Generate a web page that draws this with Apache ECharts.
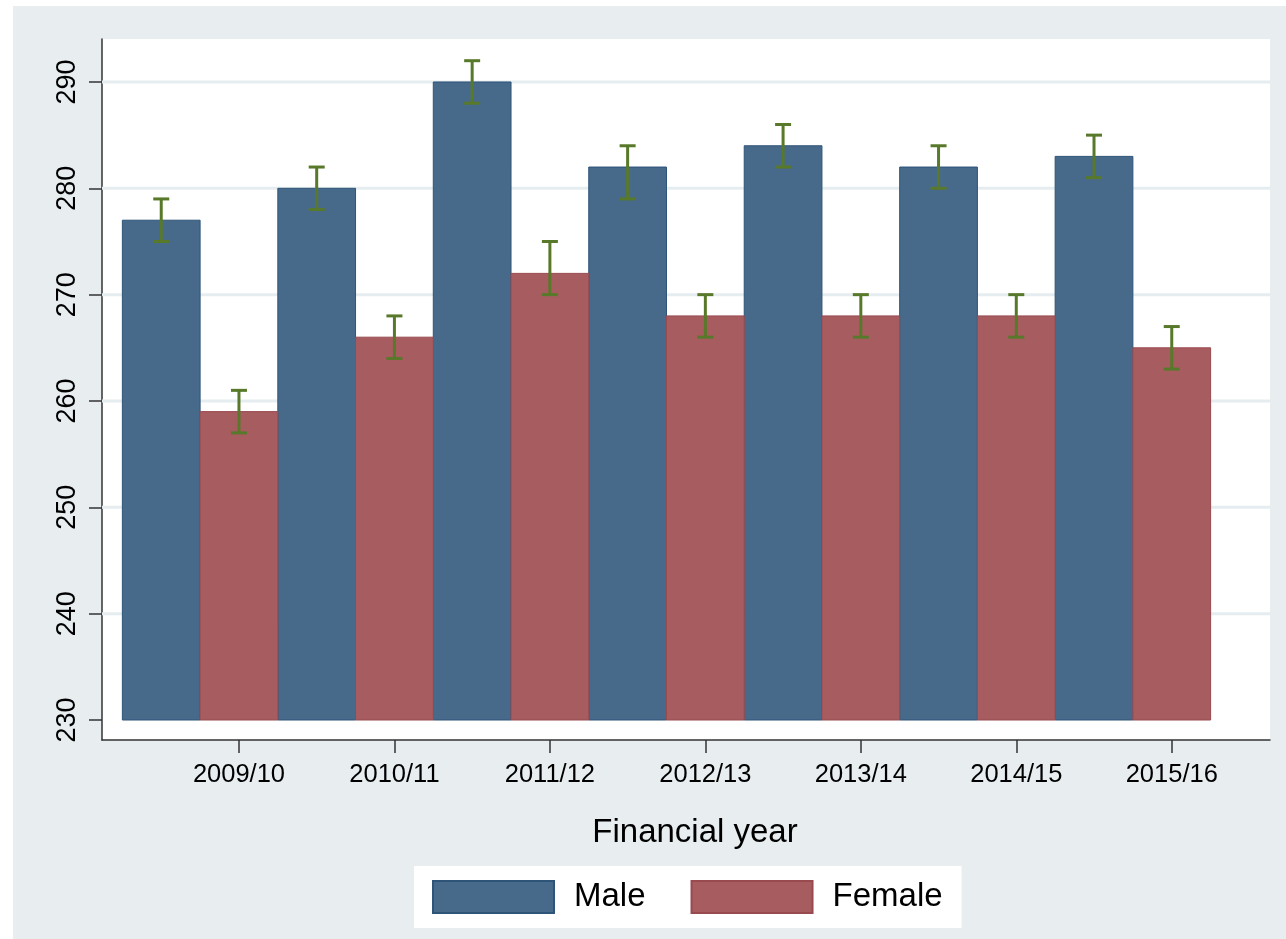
<!DOCTYPE html>
<html>
<head>
<meta charset="utf-8">
<script src="https://cdn.jsdelivr.net/npm/echarts@6/dist/echarts.min.js"></script>
<style>
  html, body { margin: 0; padding: 0; background: #ffffff; }
  #bg { position: absolute; left: 13px; top: 6px; width: 1273px; height: 933px; background: #e8eef0; }
  #chart { position: absolute; left: 0; top: 0; width: 1286px; height: 939px; }
</style>
</head>
<body>
<div id="bg"></div>
<div id="chart"></div>
<script>
// ---- data ----
const years = ['2009/10', '2010/11', '2011/12', '2012/13', '2013/14', '2014/15', '2015/16'];
const maleValues = [277, 280, 290, 282, 284, 282, 283];
const maleLow    = [275, 278, 288, 279, 282, 280, 281];
const maleHigh   = [279, 282, 292, 284, 286, 284, 285];
const femaleValues = [259, 266, 272, 268, 268, 268, 265];
const femaleLow    = [257, 264, 270, 266, 266, 266, 263];
const femaleHigh   = [261, 268, 275, 270, 270, 270, 267];
const yTicks = [230, 240, 250, 260, 270, 280, 290];
const gridValues = [240, 250, 260, 270, 280, 290];
const barBase = 230;

// ---- build ----
const xTickPos = years.map((y, i) => i);
const maleData = maleValues.map((v, i) => [i - 0.5, v]);
const femaleData = femaleValues.map((v, i) => [i, v]);
const maleErr = maleValues.map((v, i) => [i - 0.5, maleLow[i], maleHigh[i]]);
const femaleErr = femaleValues.map((v, i) => [i, femaleLow[i], femaleHigh[i]]);
const gridData = gridValues.map(v => [0, v]);

const HALF = 0.25;
function barRender(fill, stroke) {
  return function (params, api) {
    const x = api.value(0), v = api.value(1);
    const p0 = api.coord([x - HALF, v]);
    const p1 = api.coord([x + HALF, barBase]);
    return {
      type: 'rect',
      shape: { x: p0[0], y: p0[1], width: p1[0] - p0[0], height: p1[1] - p0[1] },
      style: { fill: fill, stroke: stroke, lineWidth: 1 }
    };
  };
}
function gridRender(params, api) {
  const cs = params.coordSys;
  const y = api.coord([0, api.value(1)])[1];
  return {
    type: 'line',
    shape: { x1: cs.x, y1: y, x2: cs.x + cs.width, y2: y },
    style: { stroke: '#e6edf0', lineWidth: 3 }
  };
}
const errColor = '#58792a';
function errRender(params, api) {
  const x = api.value(0);
  const lo = api.coord([x, api.value(1)]);
  const hi = api.coord([x, api.value(2)]);
  const cap = 8;
  const st = { stroke: errColor, lineWidth: 3 };
  return {
    type: 'group',
    children: [
      { type: 'line', shape: { x1: lo[0], y1: lo[1], x2: hi[0], y2: hi[1] }, style: st },
      { type: 'line', shape: { x1: lo[0] - cap, y1: lo[1], x2: lo[0] + cap, y2: lo[1] }, style: st },
      { type: 'line', shape: { x1: hi[0] - cap, y1: hi[1], x2: hi[0] + cap, y2: hi[1] }, style: st }
    ]
  };
}

const maleColor = '#476a8b', maleBorder = '#2e5478';
const femaleColor = '#a75c60', femaleBorder = '#984a4f';
const font = 'Liberation Sans, Arial, sans-serif';

const chart = echarts.init(document.getElementById('chart'), null, { renderer: 'canvas' });
chart.setOption({
  animation: false,
  backgroundColor: 'transparent',
  textStyle: { fontFamily: font },
  grid: {
    left: 102, top: 39, right: 16, bottom: 199,
    show: true, backgroundColor: '#ffffff', borderWidth: 0
  },
  legend: {
    data: [{ name: 'Male', icon: 'rect' }, { name: 'Female', icon: 'rect' }],
    left: 414, top: 866,
    orient: 'horizontal',
    backgroundColor: '#ffffff',
    padding: [14, 19, 14, 18],
    itemWidth: 121, itemHeight: 32, itemGap: 45,
    textStyle: { fontSize: 33, color: '#000', fontFamily: font, padding: [0, 0, 0, 15] },
    selectedMode: false
  },
  xAxis: {
    type: 'value',
    min: -0.881, max: 6.632,
    name: 'Financial year',
    nameLocation: 'middle',
    nameGap: 76,
    nameTextStyle: { fontSize: 33, color: '#000', fontFamily: font, padding: [0, 0, 0, 18] },
    axisLine: { show: true, onZero: false, lineStyle: { color: '#333', width: 1.5 } },
    axisTick: { show: true, customValues: xTickPos, length: 13, lineStyle: { color: '#333', width: 1.5 } },
    axisLabel: {
      customValues: xTickPos, margin: 22, fontSize: 25.5, color: '#000', fontFamily: font,
      formatter: function (v) { return years[Math.round(v)]; }
    },
    splitLine: { show: false }
  },
  yAxis: {
    type: 'value',
    min: 228.12, max: 294.04,
    axisLine: { show: true, onZero: false, lineStyle: { color: '#333', width: 1.5 } },
    axisTick: { show: true, customValues: yTicks, length: 13, lineStyle: { color: '#333', width: 1.5 } },
    axisLabel: {
      customValues: yTicks, rotate: 90, margin: 21, fontSize: 27, color: '#000', fontFamily: font
    },
    splitLine: { show: false }
  },
  series: [
    {
      name: 'gridlines', type: 'custom', data: gridData, z: 1, silent: true,
      renderItem: gridRender, encode: { x: 0, y: 1 }
    },
    {
      name: 'Male', type: 'custom', data: maleData, z: 2,
      itemStyle: { color: maleColor, borderColor: maleBorder, borderWidth: 1 },
      renderItem: barRender(maleColor, maleBorder), encode: { x: 0, y: 1 }
    },
    {
      name: 'Female', type: 'custom', data: femaleData, z: 2,
      itemStyle: { color: femaleColor, borderColor: femaleBorder, borderWidth: 1 },
      renderItem: barRender(femaleColor, femaleBorder), encode: { x: 0, y: 1 }
    },
    {
      name: 'MaleErr', type: 'custom', data: maleErr, z: 3,
      renderItem: errRender, encode: { x: 0, y: [1, 2] }
    },
    {
      name: 'FemaleErr', type: 'custom', data: femaleErr, z: 3,
      renderItem: errRender, encode: { x: 0, y: [1, 2] }
    }
  ]
});
</script>
</body>
</html>
